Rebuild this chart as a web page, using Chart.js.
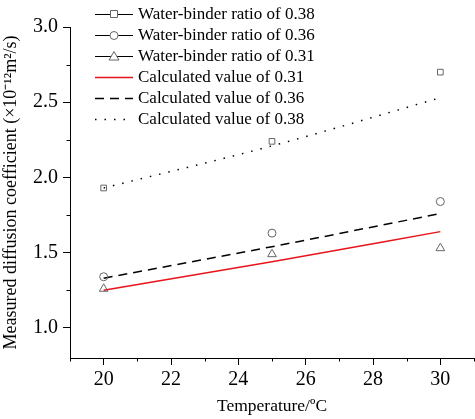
<!DOCTYPE html>
<html><head><meta charset="utf-8">
<script src="https://cdn.jsdelivr.net/npm/chart.js@4/dist/chart.umd.min.js"></script>
<style>html,body{margin:0;padding:0;background:#fff;overflow:hidden;}#wrap{width:480px;height:419px;}</style>
</head><body><div id="wrap"><canvas id="c" width="480" height="419"></canvas></div>
<script>
const temps = [20, 25, 30];
const measured038 = [1.93, 2.24, 2.70];
const measured036 = [1.34, 1.63, 1.84];
const measured031 = [1.26, 1.49, 1.53];
const calc031 = [1.25, 1.44, 1.64];
const calc036 = [1.33, 1.54, 1.76];
const calc038 = [1.93, 2.21, 2.53];
const seriesNames = ['Water-binder ratio of 0.38','Water-binder ratio of 0.36','Water-binder ratio of 0.31','Calculated value of 0.31','Calculated value of 0.36','Calculated value of 0.38'];
const xTicks = [19,20,21,22,23,24,25,26,27,28,29,30,31];
const yTicks = [1.0,1.25,1.5,1.75,2.0,2.25,2.5,2.75,3.0];
const xMajor = [20,22,24,26,28,30];
const yMajor = [1.0,1.5,2.0,2.5,3.0];

const pts = arr => arr.map((v,i)=>({x:temps[i], y:v}));
const FONT = "'Liberation Serif', 'Times New Roman', serif";
const MK = '#666';

const minorTicks = {
  id:'minorTicks',
  afterDraw(chart){
    const ctx = chart.ctx, xs = chart.scales.x, ys = chart.scales.y, a = chart.chartArea;
    ctx.save(); ctx.strokeStyle='#000'; ctx.lineWidth=1;
    xTicks.filter(v=>!xMajor.includes(v)).forEach(v=>{
      const px = Math.round(xs.getPixelForValue(v))+0.5;
      ctx.beginPath(); ctx.moveTo(px, a.bottom); ctx.lineTo(px, a.bottom+3.5); ctx.stroke();
    });
    yTicks.filter(v=>!yMajor.includes(v)).forEach(v=>{
      const py = Math.round(ys.getPixelForValue(v))+0.5;
      ctx.beginPath(); ctx.moveTo(a.left, py); ctx.lineTo(a.left-3.5, py); ctx.stroke();
    });
    // legend
    ctx.font = '17px ' + FONT; ctx.textBaseline='middle'; ctx.fillStyle='#000';
    const x0 = 95, x1 = 133, rows = [14,35,56,77,98,119];
    chart.data.datasets.forEach((ds,i)=>{
      const y = rows[i];
      ctx.save();
      ctx.strokeStyle = i<3 ? '#000' : ds.borderColor;
      ctx.lineWidth = i<3 ? 1.2 : ds.borderWidth;
      ctx.setLineDash(i<3 ? [] : (ds.borderDash||[]));
      ctx.beginPath(); ctx.moveTo(x0, y+0.5); ctx.lineTo(x1, y+0.5); ctx.stroke();
      ctx.setLineDash([]);
      if (i<3){
        const mx = 114;
        ctx.fillStyle='#fff'; ctx.strokeStyle=MK; ctx.lineWidth=1;
        ctx.beginPath();
        if (ds.pointStyle==='rect'){ ctx.rect(mx-3.5,y-3.5,7,7); }
        else if (ds.pointStyle==='circle'){ ctx.arc(mx,y+0.5,4,0,Math.PI*2); }
        else { ctx.moveTo(mx,y-4.5); ctx.lineTo(mx+5,y+4); ctx.lineTo(mx-5,y+4); ctx.closePath(); }
        ctx.fill(); ctx.stroke();
      }
      ctx.restore();
      ctx.fillText(seriesNames[i], 138, y+1);
    });
    ctx.restore();
  }
};

const mDs = (label, data, style, r) => ({label, data: pts(data), showLine:false, pointStyle: style, pointRadius:r, pointBorderColor:MK, pointBackgroundColor:'rgba(0,0,0,0)', pointBorderWidth:1, borderColor:MK});
const cDs = (label, data, color, dash, w) => ({label, data: pts(data), showLine:true, pointRadius:0, borderColor:color, borderWidth:w, borderDash:dash, cubicInterpolationMode:'monotone', fill:false});

new Chart(document.getElementById('c'), {
  type:'line',
  data:{ datasets:[
    mDs(seriesNames[0], measured038, 'rect', 4),
    mDs(seriesNames[1], measured036, 'circle', 4),
    mDs(seriesNames[2], measured031, 'triangle', 5),
    cDs(seriesNames[3], calc031, '#e8141b', [], 1.5),
    cDs(seriesNames[4], calc036, '#000', [9,6], 1.5),
    cDs(seriesNames[5], calc038, '#000', [1.5,8], 1.5)
  ]},
  options:{
    responsive:false, animation:false,
    layout:{padding:{top:27,right:0,left:0,bottom:0}},
    plugins:{legend:{display:false}, tooltip:{enabled:false}},
    scales:{
      x:{ type:'linear', min:19, max:31,
        afterBuildTicks: s => { s.ticks = xTicks.map(v=>({value:v})); },
        afterFit: s => { s.height = 61; },
        border:{display:true,color:'#000',width:1},
        grid:{drawOnChartArea:false, tickLength:7, tickColor: c => xMajor.includes(c.tick && c.tick.value) ? '#000' : 'rgba(0,0,0,0)'},
        ticks:{ color:'#000', font:{family:FONT,size:20}, padding:3, maxRotation:0, autoSkip:false,
          callback: v => xMajor.includes(v) ? String(v) : '' },
        title:{display:true, text:'Temperature/ºC', color:'#000', font:{family:FONT,size:17.5}, padding:{top:3,bottom:2}}
      },
      y:{ type:'linear', min:0.8, max:3.0,
        afterBuildTicks: s => { s.ticks = yTicks.map(v=>({value:v})); },
        afterFit: s => { s.width = 70; },
        border:{display:true,color:'#000',width:1},
        grid:{drawOnChartArea:false, tickLength:7, tickColor: c => yMajor.includes(c.tick && c.tick.value) ? '#000' : 'rgba(0,0,0,0)'},
        ticks:{ color:'#000', font:{family:FONT,size:20}, padding:5, autoSkip:false,
          callback: v => yMajor.includes(v) ? v.toFixed(1) : '' },
        title:{display:true, text:'Measured diffusion coefficient (×10⁻¹²m²/s)', color:'#000', font:{family:FONT,size:18}, padding:{top:0,bottom:2}}
      }
    }
  },
  plugins:[minorTicks]
});
</script></body></html>
